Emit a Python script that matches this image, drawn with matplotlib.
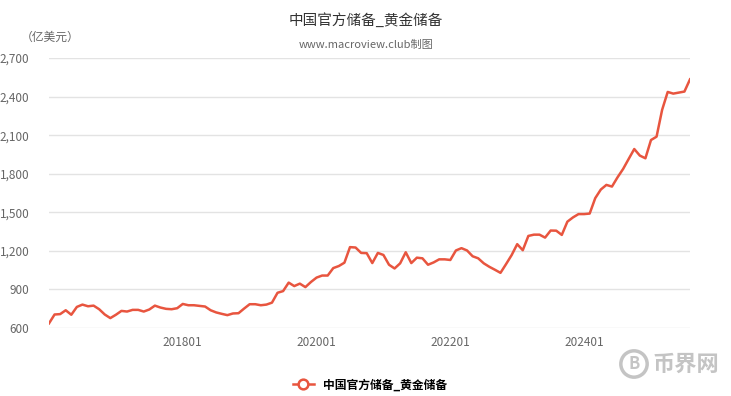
import matplotlib
matplotlib.use("Agg")
import matplotlib.pyplot as plt
from matplotlib.ticker import FuncFormatter

plt.rcParams['font.family'] = ['Noto Sans CJK SC', 'DejaVu Sans']

# 数据：2016-01 ~ 2025-08，月度，亿美元
start_year, start_month = 2016, 1
gold = [
    636, 705, 708, 738, 703, 764, 782, 769, 774, 746, 705, 677,          # 2016
    703, 733, 728, 741, 741, 728, 744, 774, 759, 749, 746, 754,          # 2017
    787, 777, 777, 772, 767, 738, 721, 710, 700, 713, 715, 751,          # 2018
    785, 785, 777, 782, 797, 874, 887, 953, 926, 945, 918, 958,          # 2019
    992, 1008, 1008, 1066, 1082, 1108, 1229, 1226, 1184, 1182, 1105, 1184,  # 2020
    1168, 1092, 1063, 1103, 1189, 1105, 1147, 1142, 1092, 1110, 1134, 1134,  # 2021
    1129, 1203, 1221, 1203, 1158, 1142, 1103, 1076, 1053, 1029, 1097, 1167,  # 2022
    1252, 1205, 1316, 1326, 1326, 1303, 1358, 1357, 1324, 1427, 1460, 1486,  # 2023
    1486, 1490, 1610, 1677, 1713, 1700, 1772, 1837, 1915, 1992, 1941, 1920,  # 2024
    2062, 2088, 2297, 2436, 2423, 2431, 2439, 2534,                      # 2025
]
dates = []
for k in range(len(gold)):
    y = start_year + (start_month - 1 + k) // 12
    m = (start_month - 1 + k) % 12 + 1
    dates.append(f"{y}{m:02d}")

tick_labels = ['201801', '202001', '202201', '202401']
yticks = [600, 900, 1200, 1500, 1800, 2100, 2400, 2700]

line_color = '#e8553f'
grid_color = '#e3e3e3'
text_grey = '#666666'

fig = plt.figure(figsize=(7.31, 3.96), dpi=100)
ax = fig.add_axes([49 / 731, 1 - 328 / 396, (690 - 49) / 731, (328 - 58) / 396])

x = list(range(len(gold)))
ax.plot(x, gold, color=line_color, linewidth=1.8)

ax.set_xlim(0, len(gold) - 1)
ax.set_ylim(600, 2700)
ax.set_yticks(yticks)
ax.yaxis.set_major_formatter(FuncFormatter(lambda v, p: f"{int(v):,}"))
ax.set_xticks([dates.index(t) for t in tick_labels])
ax.set_xticklabels(tick_labels)

ax.grid(axis='y', color=grid_color, linewidth=1)
ax.set_axisbelow(True)
for s in ax.spines.values():
    s.set_visible(False)
ax.tick_params(axis='both', length=0, colors=text_grey, labelsize=8.5)
ax.tick_params(axis='y', pad=14)
ax.tick_params(axis='x', pad=6)

# 标题
fig.text(366 / 731, 1 - 20 / 396, '中国官方储备_黄金储备', ha='center', va='center',
         fontsize=10.5, color='#333333')
fig.text(366 / 731, 1 - 45 / 396, 'www.macroview.club制图', ha='center', va='center',
         fontsize=8, color=text_grey)
fig.text(50 / 731, 1 - 37 / 396, '（亿美元）', ha='center', va='center',
         fontsize=8.5, color=text_grey)

# 图例
h, = ax.plot([], [], color=line_color, linewidth=1.8, marker='o', markersize=7,
             markerfacecolor='white', markeredgecolor=line_color, markeredgewidth=1.8)
fig.legend([h], ['中国官方储备_黄金储备'], loc='center', bbox_to_anchor=(370 / 731, 1 - 385 / 396),
           frameon=False, handlelength=1.8, prop={'weight': 'bold', 'size': 8.5})

# 水印
fig.text(634 / 731, 1 - 364 / 396, 'B', ha='center', va='center', fontsize=12,
         color='#c4c4c4', fontweight='bold',
         bbox=dict(boxstyle='circle,pad=0.25', fc='white', ec='#c4c4c4', lw=2.5))
fig.text(686 / 731, 1 - 364 / 396, '币界网', ha='center', va='center', fontsize=16,
         color='#c4c4c4', fontweight='bold')

plt.savefig('out.png', dpi=100)
